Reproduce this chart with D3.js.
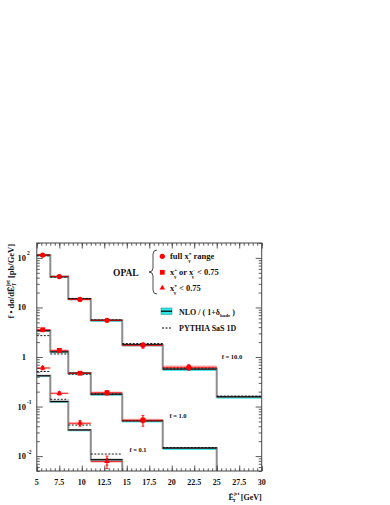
<!DOCTYPE html>
<html>
<head>
<meta charset="utf-8">
<script src="https://cdn.jsdelivr.net/npm/d3@7"></script>
<style>
  body { margin: 0; background: #fff; }
  svg text { font-family: "Liberation Serif", "Times New Roman", serif; font-weight: bold; fill: #111; }
</style>
</head>
<body>
<div id="container"></div>
<script>
// bins in mean E_T^jet [GeV]
var binEdges = [5, 6.5, 8.5, 11, 14.5, 19, 25, 30]
var meanEt = [5.65, 7.5, 9.8, 12.8, 16.8, 21.9]

// scale factors f for the three selections
var scaleF = [10, 1, 0.1]
var scaleLabels = ['f = 10.0', 'f = 1.0', 'f = 0.1']

// full x_gamma range (plotted with f = 10)
var fullData = [11.4, 4.2, 1.45, 0.55, 0.172, 0.062]
var fullStat = [0.2, 0.08, 0.03, 0.012, 0.01, 0.004]
var fullTot = [0.5, 0.2, 0.07, 0.03, 0.022, 0.008]
var fullNlo = [11.4, 4.2, 1.49, 0.55, 0.177, 0.057, 0.0157]
var fullPythia = [11.0, 4.1, 1.52, 0.56, 0.187, 0.06, 0.0162]

// x+ or x- < 0.75 (f = 1)
var mixData = [3.55, 1.36, 0.47, 0.19, 0.053]
var mixStat = [0.08, 0.04, 0.015, 0.008, 0.006]
var mixTot = [0.15, 0.06, 0.025, 0.02, 0.013]
var mixNlo = [3.4, 1.27, 0.473, 0.178, 0.0514, 0.0145]
var mixPythia = [2.7, 1.15, 0.45, 0.18, 0.052, 0.0148]

// both x < 0.75 (f = 0.1)
var lowData = [6.0, 1.85, 0.46, 0.078]
var lowStat = [0.25, 0.08, 0.03, 0.012]
var lowTot = [0.5, 0.15, 0.06, 0.022]
var lowNlo = [4.18, 1.26, 0.337, 0.0846]
var lowPythia = [5.1, 1.4, 0.423, 0.110]

// relative widths of the NLO band and of the energy scale band
var nloBand = [0.06, 0.06, 0.06, 0.07, 0.07, 0.08, 0.08]
var scaleBand = [0.04, 0.04, 0.05, 0.06, 0.07, 0.09]

var yTickVals = [100, 10, 1, 0.1, 0.01]
var yTickBase = ['10', '10', '1', '10', '10']
var yTickExp = ['2', '', '', '-1', '-2']
var xTickVals = [5, 7.5, 10, 12.5, 15, 17.5, 20, 22.5, 25, 27.5, 30]

var series = [
  {data: fullData, stat: fullStat, tot: fullTot, nlo: fullNlo, pythia: fullPythia, f: scaleF[0], marker: 'circle'},
  {data: mixData, stat: mixStat, tot: mixTot, nlo: mixNlo, pythia: mixPythia, f: scaleF[1], marker: 'square'},
  {data: lowData, stat: lowStat, tot: lowTot, nlo: lowNlo, pythia: lowPythia, f: scaleF[2], marker: 'triangle'}
]

var WIDTH = 390
var HEIGHT = 505
var L = 36.8, R = 261.7, T = 243, B = 471

var svg = d3.select('div#container').append('svg')
  .attr('width', WIDTH)
  .attr('height', HEIGHT)

var x = d3.scaleLinear().domain([5, 30]).range([L, R])
var y = d3.scaleLog().domain([0.005, 200]).range([B, T])

var RED = '#ff0000'
var PINK = '#ffb8b8'
var CYAN = '#2ee6ea'

function stepPath(vals, f, dropToAxis) {
  var p = d3.path()
  vals.forEach(function (v, i) {
    var yy = y(v * f)
    if (i === 0) p.moveTo(x(binEdges[0]), yy)
    else p.lineTo(x(binEdges[i]), yy)
    p.lineTo(x(binEdges[i + 1]), yy)
  })
  if (dropToAxis) p.lineTo(x(binEdges[vals.length]), B)
  return p.toString()
}

var plot = svg.append('g')

series.forEach(function (s) {
  var n = s.nlo.length
  var drop = binEdges[n] < 30
  var g = plot.append('g')

  // pink energy-scale band behind the data
  s.data.forEach(function (v, i) {
    var band = scaleBand[i]
    g.append('rect')
      .attr('x', x(binEdges[i]))
      .attr('width', x(binEdges[i + 1]) - x(binEdges[i]))
      .attr('y', y(v * s.f * (1 + band)))
      .attr('height', y(v * s.f * (1 - band)) - y(v * s.f * (1 + band)))
      .attr('fill', PINK)
  })

  // NLO band
  s.nlo.forEach(function (v, i) {
    g.append('rect')
      .attr('x', x(binEdges[i]))
      .attr('width', x(binEdges[i + 1]) - x(binEdges[i]))
      .attr('y', y(v * s.f * (1 + nloBand[i] * 0.5)))
      .attr('height', y(v * s.f * (1 - nloBand[i])) - y(v * s.f * (1 + nloBand[i] * 0.5)))
      .attr('fill', CYAN)
  })

  // gray step outline, then black horizontals
  g.append('path')
    .attr('d', stepPath(s.nlo, s.f, drop))
    .attr('fill', 'none')
    .attr('stroke', '#8c8c8c')
    .attr('stroke-width', 2)

  s.nlo.forEach(function (v, i) {
    g.append('line')
      .attr('x1', x(binEdges[i])).attr('x2', x(binEdges[i + 1]))
      .attr('y1', y(v * s.f)).attr('y2', y(v * s.f))
      .attr('stroke', '#000').attr('stroke-width', 1)
  })

  // PYTHIA dashed
  s.pythia.forEach(function (v, i) {
    g.append('line')
      .attr('x1', x(binEdges[i])).attr('x2', x(binEdges[i + 1]))
      .attr('y1', y(v * s.f)).attr('y2', y(v * s.f))
      .attr('stroke', '#000').attr('stroke-width', 0.9)
      .attr('stroke-dasharray', '2,1.5')
  })

  // data: x bar, error bars, markers
  s.data.forEach(function (v, i) {
    var cx = x(meanEt[i]), cy = y(v * s.f)
    g.append('line')
      .attr('x1', x(binEdges[i])).attr('x2', x(binEdges[i + 1]))
      .attr('y1', cy).attr('y2', cy)
      .attr('stroke', RED).attr('stroke-width', 0.8)
    var yt = y((v + s.tot[i]) * s.f), yb = y((v - s.tot[i]) * s.f)
    g.append('line')
      .attr('x1', cx).attr('x2', cx).attr('y1', yt).attr('y2', yb)
      .attr('stroke', RED).attr('stroke-width', 1)
    ;[yt, yb, y((v + s.stat[i]) * s.f), y((v - s.stat[i]) * s.f)].forEach(function (yy) {
      g.append('line')
        .attr('x1', cx - 1.5).attr('x2', cx + 1.5).attr('y1', yy).attr('y2', yy)
        .attr('stroke', RED).attr('stroke-width', 0.8)
    })
    drawMarker(g, s.marker, cx, cy)
  })
})

function drawMarker(g, type, cx, cy) {
  if (type === 'circle') {
    g.append('circle').attr('cx', cx).attr('cy', cy).attr('r', 2.6).attr('fill', RED)
  } else if (type === 'square') {
    g.append('rect').attr('x', cx - 2.4).attr('y', cy - 2.4).attr('width', 4.8).attr('height', 4.8).attr('fill', RED)
  } else {
    g.append('path')
      .attr('d', d3.symbol().type(d3.symbolTriangle).size(13)())
      .attr('transform', 'translate(' + cx + ',' + cy + ')')
      .attr('fill', RED)
  }
}

// scale factor labels
var fLabelPos = [[232, 359], [178, 418], [138, 452]]
scaleLabels.forEach(function (t, i) {
  svg.append('text').attr('x', fLabelPos[i][0]).attr('y', fLabelPos[i][1])
    .attr('text-anchor', 'middle').attr('font-size', 6.5).text(t)
})

// axes: ticks on all four sides, pointing inwards
var xMinor = d3.range(5, 30.01, 0.5)
var yMinor = []
;[0.001, 0.01, 0.1, 1, 10, 100].forEach(function (d) {
  for (var k = 2; k <= 9; k++) if (d * k >= 0.005 && d * k <= 200) yMinor.push(d * k)
})

function addAxis(axis, tr) {
  var a = svg.append('g').attr('transform', tr).call(axis)
  a.selectAll('path.domain').remove()
  a.selectAll('line').attr('stroke', '#333').attr('stroke-width', 0.8)
  a.selectAll('text').remove()
}
addAxis(d3.axisBottom(x).tickValues(xMinor).tickSize(-2.7), 'translate(0,' + B + ')')
addAxis(d3.axisBottom(x).tickValues(xTickVals).tickSize(-5.5), 'translate(0,' + B + ')')
addAxis(d3.axisTop(x).tickValues(xMinor).tickSize(-2.7), 'translate(0,' + T + ')')
addAxis(d3.axisTop(x).tickValues(xTickVals).tickSize(-5.5), 'translate(0,' + T + ')')
addAxis(d3.axisLeft(y).tickValues(yMinor).tickSize(-3), 'translate(' + L + ',0)')
addAxis(d3.axisLeft(y).tickValues(yTickVals).tickSize(-6), 'translate(' + L + ',0)')
addAxis(d3.axisRight(y).tickValues(yMinor).tickSize(-3), 'translate(' + R + ',0)')
addAxis(d3.axisRight(y).tickValues(yTickVals).tickSize(-6), 'translate(' + R + ',0)')

svg.append('rect').attr('x', L).attr('y', T).attr('width', R - L).attr('height', B - T)
  .attr('fill', 'none').attr('stroke', '#444').attr('stroke-width', 1)

// x tick labels
svg.append('g').selectAll('text').data(xTickVals).join('text')
  .attr('x', function (d) { return x(d) }).attr('y', B + 14)
  .attr('text-anchor', 'middle').attr('font-size', 8)
  .text(function (d) { return d })

// y tick labels
yTickVals.forEach(function (v, i) {
  svg.append('text').attr('x', 26).attr('y', y(v) + 3)
    .attr('text-anchor', 'end').attr('font-size', 8.5).text(yTickBase[i])
  if (yTickExp[i]) {
    svg.append('text').attr('x', 27).attr('y', y(v) - 2.5)
      .attr('font-size', 5.5).text(yTickExp[i])
  }
})

// axis titles
var yt = svg.append('text').attr('transform', 'translate(14,244) rotate(-90)')
  .attr('text-anchor', 'end').attr('font-size', 8.5)
yt.append('tspan').text('f  \u2022  d\u03c3/d\u0112')
yt.append('tspan').attr('font-size', 5.5).attr('dy', 2).text('T')
yt.append('tspan').attr('font-size', 5.5).attr('dx', -3.5).attr('dy', -6.5).text('jet')
yt.append('tspan').attr('dy', 4.5).text('  [pb/GeV]')

var xt = svg.append('text').attr('x', R).attr('y', 500)
  .attr('text-anchor', 'end').attr('font-size', 8)
xt.append('tspan').text('\u0112')
xt.append('tspan').attr('font-size', 5).attr('dy', -5).text('jet')
xt.append('tspan').attr('font-size', 5).attr('dx', -7).attr('dy', 7).text('T')
xt.append('tspan').attr('dy', -2).attr('dx', 5).text('[GeV]')

// legend
svg.append('text').attr('x', 113).attr('y', 275.5).attr('font-size', 9.5).text('OPAL')
svg.append('path')
  .attr('d', 'M157,250 Q153,250 153,254 L153,268 Q153,272 149,272 Q153,272 153,276 L153,290 Q153,294 157,294')
  .attr('fill', 'none').attr('stroke', '#222').attr('stroke-width', 0.8)

var lgX = 162.3
drawMarker(svg, 'circle', lgX, 256.3)
drawMarker(svg, 'square', lgX, 272.3)
drawMarker(svg, 'triangle', lgX, 288)

// x with gamma subscript and a charge superscript stacked on it
function xg(t, sup) {
  t.append('tspan').text('x')
  t.append('tspan').attr('font-size', 5).attr('dy', -4).text(sup)
  t.append('tspan').attr('font-size', 5).attr('dx', -3.2).attr('dy', 6.5).text('\u03b3')
  t.append('tspan').attr('font-size', 8.5).attr('dy', -2.5).text('\u200a')
}
var l1 = svg.append('text').attr('x', 170).attr('y', 259).attr('font-size', 8.5)
l1.append('tspan').text('full ')
xg(l1, '\u00b1')
l1.append('tspan').text(' range')

var l2 = svg.append('text').attr('x', 170).attr('y', 275).attr('font-size', 8.5)
xg(l2, '+')
l2.append('tspan').text('  or  ')
xg(l2, '-')
l2.append('tspan').text(' < 0.75')

var l3 = svg.append('text').attr('x', 170).attr('y', 291).attr('font-size', 8.5)
xg(l3, '\u00b1')
l3.append('tspan').text(' < 0.75')

svg.append('rect').attr('x', 161).attr('y', 308).attr('width', 11).attr('height', 6.5)
  .attr('fill', CYAN).attr('stroke', '#2a9a9a').attr('stroke-width', 0.6)
svg.append('line').attr('x1', 161).attr('x2', 172).attr('y1', 311.2).attr('y2', 311.2)
  .attr('stroke', '#000').attr('stroke-width', 1.2)
var l4 = svg.append('text').attr('x', 179).attr('y', 314.5).attr('font-size', 8)
l4.append('tspan').text('NLO / ( 1+\u03b4')
l4.append('tspan').attr('font-size', 5).attr('dy', 2).text('hadr')
l4.append('tspan').attr('dy', -2).text(' )')

svg.append('line').attr('x1', 162).attr('x2', 172).attr('y1', 328).attr('y2', 328)
  .attr('stroke', '#000').attr('stroke-width', 1).attr('stroke-dasharray', '2,1.5')
svg.append('text').attr('x', 179).attr('y', 331).attr('font-size', 8).text('PYTHIA SaS  1D')
</script>
</body>
</html>
